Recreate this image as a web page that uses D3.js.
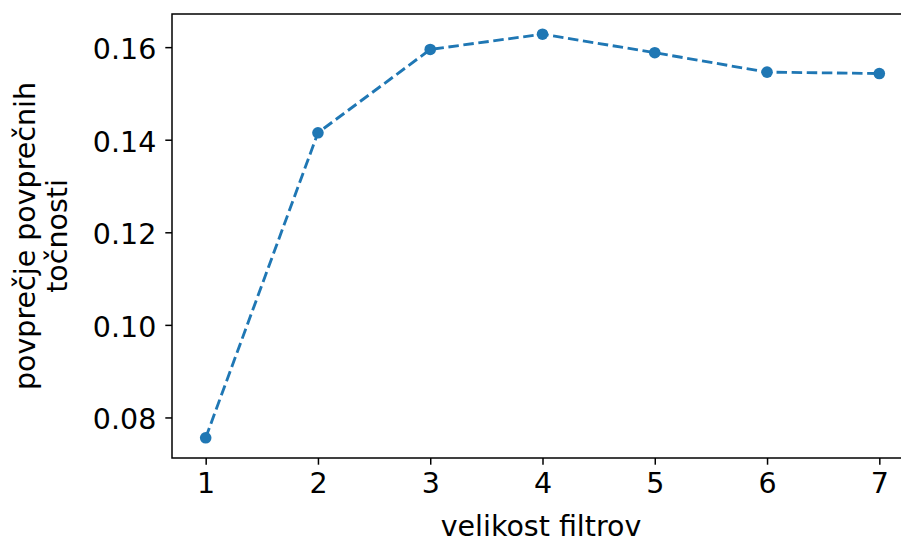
<!DOCTYPE html>
<html>
<head>
<meta charset="utf-8">
<script src="https://cdn.jsdelivr.net/npm/d3@7"></script>
<style>
  html, body { margin: 0; padding: 0; background: #fff; }
  svg { display: block; }
  text { font-family: "DejaVu Sans", sans-serif; fill: #000; }
</style>
</head>
<body>
<svg id="chart" width="901" height="543"></svg>
<script>
const filterSizes = [1, 2, 3, 4, 5, 6, 7];
const accuracy = [0.0756, 0.1415, 0.1595, 0.1628, 0.1588, 0.1546, 0.1543];
const xTicks = [1, 2, 3, 4, 5, 6, 7];
const yTicks = [0.08, 0.10, 0.12, 0.14, 0.16];
const xLabel = "velikost filtrov";
const yLabelLines = ["povprečje povprečnih", "točnosti"];

const svg = d3.select("#chart");
const mLeft = 172, mTop = 14, mRight = 913, mBottom = 458;
const fontSize = 28.5;

const xMin = d3.min(filterSizes), xMax = d3.max(filterSizes);
const xPad = (xMax - xMin) * 0.05;
const yMin = d3.min(accuracy), yMax = d3.max(accuracy);
const yPad = (yMax - yMin) * 0.05;

const x = d3.scaleLinear().domain([xMin - xPad, xMax + xPad]).range([mLeft, mRight]);
const y = d3.scaleLinear().domain([yMin - yPad, yMax + yPad]).range([mBottom, mTop]);

const data = filterSizes.map((d, i) => ({ x: d, y: accuracy[i] }));

svg.append("path")
  .datum(data)
  .attr("fill", "none")
  .attr("stroke", "#1f77b4")
  .attr("stroke-width", 2.85)
  .attr("stroke-dasharray", "10.5,4.6")
  .attr("d", d3.line().x(d => x(d.x)).y(d => y(d.y)));

svg.selectAll("circle.pt")
  .data(data)
  .enter().append("circle")
  .attr("class", "pt")
  .attr("cx", d => x(d.x))
  .attr("cy", d => y(d.y))
  .attr("r", 5.8)
  .attr("fill", "#1f77b4");

const xAxis = d3.axisBottom(x).tickValues(xTicks).tickFormat(d3.format("d")).tickSize(6.7).tickPadding(8.5);
const gx = svg.append("g").attr("transform", `translate(0,${mBottom})`).call(xAxis);
const yAxis = d3.axisLeft(y).tickValues(yTicks).tickFormat(d3.format(".2f")).tickSize(6.7).tickPadding(9);
const gy = svg.append("g").attr("transform", `translate(${mLeft},0)`).call(yAxis);

[gx, gy].forEach(g => {
  g.select(".domain").remove();
  g.selectAll(".tick line").attr("stroke", "#000").attr("stroke-width", 1.5);
  g.selectAll(".tick text").style("font-size", fontSize + "px").attr("fill", "#000");
});
gy.selectAll(".tick text").attr("dy", "0.4em");

svg.append("rect")
  .attr("x", mLeft).attr("y", mTop)
  .attr("width", mRight - mLeft).attr("height", mBottom - mTop)
  .attr("fill", "none").attr("stroke", "#000").attr("stroke-width", 1.5);

svg.append("text")
  .attr("x", 541)
  .attr("y", 536)
  .attr("text-anchor", "middle")
  .style("font-size", fontSize + "px")
  .text(xLabel);

const yl = svg.append("text")
  .attr("transform", `translate(34.5,${(mTop + mBottom) / 2}) rotate(-90)`)
  .attr("text-anchor", "middle")
  .style("font-size", fontSize + "px");
yLabelLines.forEach((t, i) => {
  yl.append("tspan").attr("x", 0).attr("dy", i === 0 ? 0 : 32).text(t);
});
</script>
</body>
</html>
